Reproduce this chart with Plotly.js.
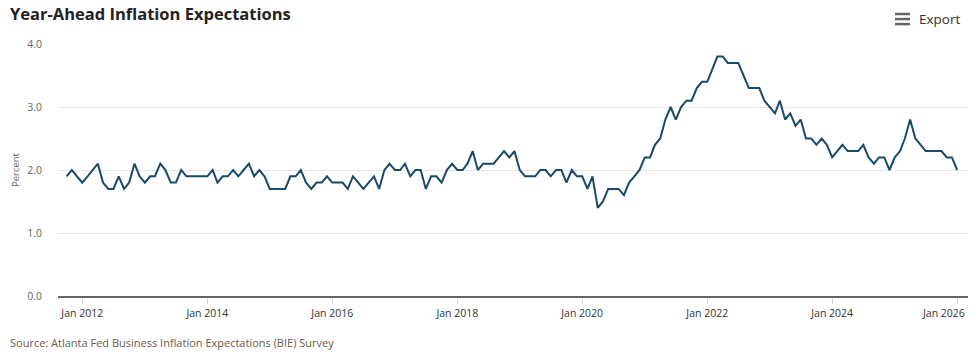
<!DOCTYPE html>
<html>
<head>
<meta charset="utf-8">
<script src="https://cdn.plot.ly/plotly-3.0.1.min.js"></script>
<style>
html,body{margin:0;padding:0;background:#fff;}
#chart{width:973px;height:357px;}
</style>
</head>
<body>
<div id="chart"></div>
<script>
// Monthly series starting Oct 2011
const startYear = 2011, startMonth = 10;
const values = [
  1.9, 2.0, 1.9,
  1.8, 1.9, 2.0, 2.1, 1.8, 1.7, 1.7, 1.9, 1.7, 1.8, 2.1, 1.9,
  1.8, 1.9, 1.9, 2.1, 2.0, 1.8, 1.8, 2.0, 1.9, 1.9, 1.9, 1.9,
  1.9, 2.0, 1.8, 1.9, 1.9, 2.0, 1.9, 2.0, 2.1, 1.9, 2.0, 1.9,
  1.7, 1.7, 1.7, 1.7, 1.9, 1.9, 2.0, 1.8, 1.7, 1.8, 1.8, 1.9,
  1.8, 1.8, 1.8, 1.7, 1.9, 1.8, 1.7, 1.8, 1.9, 1.7, 2.0, 2.1,
  2.0, 2.0, 2.1, 1.9, 2.0, 2.0, 1.7, 1.9, 1.9, 1.8, 2.0, 2.1,
  2.0, 2.0, 2.1, 2.3, 2.0, 2.1, 2.1, 2.1, 2.2, 2.3, 2.2, 2.3,
  2.0, 1.9, 1.9, 1.9, 2.0, 2.0, 1.9, 2.0, 2.0, 1.8, 2.0, 1.9,
  1.9, 1.7, 1.9, 1.4, 1.5, 1.7, 1.7, 1.7, 1.6, 1.8, 1.9, 2.0,
  2.2, 2.2, 2.4, 2.5, 2.8, 3.0, 2.8, 3.0, 3.1, 3.1, 3.3, 3.4,
  3.4, 3.6, 3.8, 3.8, 3.7, 3.7, 3.7, 3.5, 3.3, 3.3, 3.3, 3.1,
  3.0, 2.9, 3.1, 2.8, 2.9, 2.7, 2.8, 2.5, 2.5, 2.4, 2.5, 2.4,
  2.2, 2.3, 2.4, 2.3, 2.3, 2.3, 2.4, 2.2, 2.1, 2.2, 2.2, 2.0,
  2.2, 2.3, 2.5, 2.8, 2.5, 2.4, 2.3, 2.3, 2.3, 2.3, 2.2, 2.2,
  2.0
];
const dates = values.map((v, i) => {
  const t = (startMonth - 1) + i;
  const y = startYear + Math.floor(t / 12);
  const m = (t % 12) + 1;
  return y + '-' + String(m).padStart(2, '0') + '-01';
});
const lastTickDate = '2026-01-01';
const lastTickLabel = 'Jan 2026';

const FONT = 'Open Sans, Noto Sans, sans-serif';

const trace = {
  x: dates, y: values, type: 'scatter', mode: 'lines',
  line: {color: '#174a6b', width: 2},
  hoverinfo: 'x+y', showlegend: false
};

const layout = {
  width: 973, height: 357,
  margin: {l: 58, r: 5, t: 44, b: 61},
  paper_bgcolor: '#fff', plot_bgcolor: '#fff',
  font: {family: FONT, color: '#333'},
  showlegend: false,
  xaxis: {
    type: 'date',
    range: ['2011-08-12', '2026-03-05'],
    tick0: '2012-01-01', dtick: 'M24', tickformat: '%b %Y',
    ticks: 'outside', ticklen: 6, tickcolor: '#ccd6eb', tickwidth: 1,
    ticklabeloverflow: 'hide past domain',
    showgrid: false, zeroline: false,
    showline: true, linecolor: '#666', linewidth: 2,
    tickfont: {size: 10.5, color: '#333', family: FONT}
  },
  yaxis: {
    range: [0, 4], tick0: 0, dtick: 1, tickformat: '.1f',
    showgrid: true, gridcolor: '#e6e6e6', gridwidth: 1,
    zeroline: false, showline: false,
    ticks: 'outside', ticklen: 13, tickcolor: 'rgba(0,0,0,0)',
    tickfont: {size: 10.5, color: '#666', family: FONT},
    title: {text: 'Percent', font: {size: 9.5, color: '#666', family: FONT}, standoff: 5}
  },
  annotations: [
    {xref: 'paper', yref: 'paper', x: -0.05, y: 1.0, xanchor: 'left', yanchor: 'bottom',
     yshift: 17, xshift: -5,
     text: '<b>Year-Ahead Inflation Expectations</b>', showarrow: false,
     font: {size: 16.5, color: '#222', family: FONT}},
    {xref: 'paper', yref: 'paper', x: 0.9934, y: 1.099, xanchor: 'right', yanchor: 'middle',
     text: 'Export', showarrow: false,
     font: {size: 13.5, color: '#333', family: FONT}},
    {xref: 'x', yref: 'paper', x: lastTickDate, y: 0, xanchor: 'right', yanchor: 'top',
     xshift: 10, yshift: -8,
     text: lastTickLabel, showarrow: false,
     font: {size: 10.5, color: '#333', family: FONT}},
    {xref: 'paper', yref: 'paper', x: -0.05, y: 0, xanchor: 'left', yanchor: 'top',
     yshift: -37, xshift: -5,
     text: 'Source: Atlanta Fed Business Inflation Expectations (BIE) Survey', showarrow: false,
     font: {size: 11, color: '#6b5a4b', family: FONT}}
  ],
  shapes: [
    {type: 'line', xref: 'paper', yref: 'paper', x0: 0.9198, x1: 0.9363, y0: 1.119, y1: 1.119, line: {color: '#666', width: 2.5}},
    {type: 'line', xref: 'paper', yref: 'paper', x0: 0.9198, x1: 0.9363, y0: 1.099, y1: 1.099, line: {color: '#666', width: 2.5}},
    {type: 'line', xref: 'paper', yref: 'paper', x0: 0.9198, x1: 0.9363, y0: 1.079, y1: 1.079, line: {color: '#666', width: 2.5}}
  ]
};

Plotly.newPlot('chart', [trace], layout, {displayModeBar: false});
</script>
</body>
</html>
